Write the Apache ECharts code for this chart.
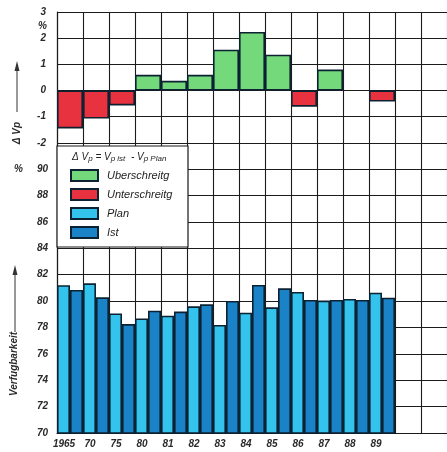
<!DOCTYPE html>
<html>
<head>
<meta charset="utf-8">
<script src="https://cdn.jsdelivr.net/npm/echarts@6/dist/echarts.min.js"></script>
<style>
html,body{margin:0;padding:0;background:#fff;}
#c{width:447px;height:452px;}
</style>
</head>
<body>
<div id="c"></div>
<script>
// ---- data ----
var years = ['1965', '70', '75', '80', '81', '82', '83', '84', '85', '86', '87', '88', '89'];
var emptyCells = ['', ''];
var deltaVp = [-1.45, -1.07, -0.57, 0.6, 0.37, 0.6, 1.56, 2.24, 1.37, -0.62, 0.8, 0, -0.42];
var planValues = [81.2, 81.34, 79.06, 78.68, 78.89, 79.6, 78.18, 79.11, 79.52, 80.68, 80.03, 80.15, 80.63];
var istValues = [80.84, 80.28, 78.25, 79.27, 79.2, 79.75, 80.0, 81.22, 80.96, 80.08, 80.08, 80.08, 80.25];
var legendNames = ['Uberschreitg', 'Unterschreitg', 'Plan', 'Ist'];

var categories = years.concat(emptyCells);
var overValues = deltaVp.map(function (v) { return v > 0 ? v : null; });
var underValues = deltaVp.map(function (v) { return v < 0 ? v : null; });

var INK = '#1b1b1b';
var EDGE = '#0c2232';
var FONT = 'Liberation Sans';
var labelStyle = { fontFamily: FONT, fontStyle: 'italic', fontWeight: 'bold', fontSize: 10, color: '#2a2a2a' };

var chart = echarts.init(document.getElementById('c'), null, { renderer: 'canvas' });

function xAxisBase(gi, showLabels) {
  return {
    type: 'category', gridIndex: gi, data: categories, boundaryGap: true,
    axisLine: { show: showLabels, lineStyle: { color: INK, width: 1.2 } },
    axisTick: { show: false },
    axisLabel: Object.assign({ show: showLabels, margin: 6, padding: [0, 12, 0, 0], interval: 0 }, labelStyle),
    splitLine: { show: true, lineStyle: { color: INK, width: 1.1 } }
  };
}

var option = {
  animation: false,
  backgroundColor: '#fff',
  grid: [
    { left: 57, top: 12, width: 395, height: 157 },
    { left: 57, top: 169, width: 395, height: 264 }
  ],
  xAxis: [xAxisBase(0, false), xAxisBase(1, true)],
  yAxis: [
    {
      type: 'value', gridIndex: 0, min: -3, max: 3, interval: 1,
      axisLine: { show: true, lineStyle: { color: INK, width: 1.2 } },
      axisTick: { show: false },
      axisLabel: Object.assign({ margin: 11, formatter: function (v) { return v === -3 ? '' : String(v); } }, labelStyle),
      splitLine: { show: true, lineStyle: { color: INK, width: 1.1 } }
    },
    {
      type: 'value', gridIndex: 1, min: 70, max: 90, interval: 2,
      axisLine: { show: true, lineStyle: { color: INK, width: 1.2 } },
      axisTick: { show: false },
      axisLabel: Object.assign({ margin: 9 }, labelStyle),
      splitLine: { show: true, lineStyle: { color: INK, width: 1.1 } }
    }
  ],
  legend: {
    data: legendNames.map(function (n) { return { name: n, icon: 'rect' }; }),
    orient: 'vertical',
    left: 70, top: 169, padding: 0,
    itemWidth: 27, itemHeight: 11, itemGap: 6,
    z: 100,
    textStyle: { fontFamily: FONT, fontStyle: 'italic', fontSize: 11, color: '#222', lineHeight: 12, padding: [0, 0, 0, 4] },
    selectedMode: false
  },
  graphic: [
    { type: 'rect', z: 50, shape: { x: 57, y: 146, width: 131, height: 101 },
      style: { fill: '#fff', stroke: INK, lineWidth: 1.2 } },
    { type: 'text', z: 60, x: 72, y: 151,
      style: {
        text: '{m|Δ V}{s|p}{m| = V}{s|p ist}{m|  - V}{s|p Plan}',
        rich: {
          m: { fontFamily: FONT, fontStyle: 'italic', fontSize: 10, fill: '#222' },
          s: { fontFamily: FONT, fontStyle: 'italic', fontSize: 8, fill: '#222', padding: [4, 0, 0, 0] }
        }
      } },
    // top % sign
    { type: 'text', z: 60, x: 38, y: 21,
      style: { text: '%', fontFamily: FONT, fontStyle: 'italic', fontWeight: 'bold', fontSize: 10, fill: '#2a2a2a' } },
    // bottom % sign
    { type: 'text', z: 60, x: 14, y: 164,
      style: { text: '%', fontFamily: FONT, fontStyle: 'italic', fontWeight: 'bold', fontSize: 10, fill: '#2a2a2a' } },
    // ΔVp axis name + arrow
    { type: 'line', z: 60, shape: { x1: 17, y1: 70, x2: 17, y2: 112 }, style: { stroke: '#333', lineWidth: 1 } },
    { type: 'polygon', z: 60, shape: { points: [[17, 61], [14.5, 71], [19.5, 71]] }, style: { fill: '#333' } },
    { type: 'text', z: 60, x: 17, y: 133, rotation: Math.PI / 2,
      style: { text: 'Δ Vp', fontFamily: FONT, fontStyle: 'italic', fontWeight: 'bold', fontSize: 10, fill: '#2a2a2a', align: 'center', verticalAlign: 'middle' } },
    // Verfugbarkeit axis name + arrow
    { type: 'line', z: 60, shape: { x1: 15, y1: 274, x2: 15, y2: 332 }, style: { stroke: '#333', lineWidth: 1 } },
    { type: 'polygon', z: 60, shape: { points: [[15, 265], [12.5, 275], [17.5, 275]] }, style: { fill: '#333' } },
    { type: 'text', z: 60, x: 14, y: 364, rotation: Math.PI / 2,
      style: { text: 'Verfugbarkeit', fontFamily: FONT, fontStyle: 'italic', fontWeight: 'bold', fontSize: 10, fill: '#2a2a2a', align: 'center', verticalAlign: 'middle' } }
  ],
  series: [
    { name: legendNames[0], type: 'bar', xAxisIndex: 0, yAxisIndex: 0, data: overValues,
      barWidth: '100%', barGap: '-100%', z: 3,
      itemStyle: { color: '#74d97a', borderColor: EDGE, borderWidth: 1.6 } },
    { name: legendNames[1], type: 'bar', xAxisIndex: 0, yAxisIndex: 0, data: underValues,
      barWidth: '100%', barGap: '-100%', z: 3,
      itemStyle: { color: '#e8323f', borderColor: EDGE, borderWidth: 1.6 } },
    { name: legendNames[2], type: 'bar', xAxisIndex: 1, yAxisIndex: 1, data: planValues,
      barWidth: '50%', barGap: '0%', z: 3,
      itemStyle: { color: '#33c3ec', borderColor: EDGE, borderWidth: 1.6 } },
    { name: legendNames[3], type: 'bar', xAxisIndex: 1, yAxisIndex: 1, data: istValues,
      barWidth: '50%', barGap: '0%', z: 3,
      itemStyle: { color: '#1a82c6', borderColor: EDGE, borderWidth: 1.6 } }
  ]
};
chart.setOption(option);
</script>
</body>
</html>
